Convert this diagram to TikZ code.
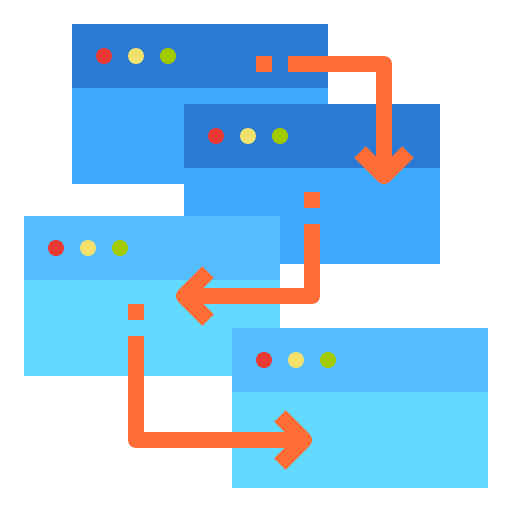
\documentclass[tikz,border=0pt]{standalone}
\usetikzlibrary{calc}

\definecolor{barDark}{HTML}{2A7BD4}
\definecolor{bodyDark}{HTML}{3FA9FF}
\definecolor{barLight}{HTML}{55BDFF}
\definecolor{bodyLight}{HTML}{64D9FF}
\definecolor{dotRed}{HTML}{EC3833}
\definecolor{dotYellow}{HTML}{F2E16A}
\definecolor{dotGreen}{HTML}{A3CC00}
\definecolor{flow}{HTML}{FF6D36}

% one browser window: top-left x, top-left y, bar colour, body colour
\newcommand{\browserwin}[4]{%
  \fill[#4] (#1,#2) rectangle ++(256,160);
  \fill[#3] (#1,#2) rectangle ++(256,64);
  \fill[dotRed]    (#1+32,#2+32) circle (8);
  \fill[dotYellow] (#1+64,#2+32) circle (8);
  \fill[dotGreen]  (#1+96,#2+32) circle (8);
}

\begin{document}
\begin{tikzpicture}[
    x=0.02cm, y=-0.02cm,
    flowline/.style={draw=flow, line width=0.32cm, line join=round},
    flowdot/.style={fill=flow},
  ]
  \useasboundingbox (0,0) rectangle (512,512);

  % ------------------------------------------------------------------
  % the four windows, back to front
  % ------------------------------------------------------------------
  \browserwin{72}{24}{barDark}{bodyDark}
  \browserwin{184}{104}{barDark}{bodyDark}
  \browserwin{24}{216}{barLight}{bodyLight}
  \browserwin{232}{328}{barLight}{bodyLight}

  % ------------------------------------------------------------------
  % flow arrows: a small square, then an elbow line ending in a chevron
  % ------------------------------------------------------------------
  % first -> second
  \fill[flowdot] (256,56) rectangle (272,72);
  \coordinate (a1s) at (288,64);
  \coordinate (a1k) at (384,64);
  \coordinate (a1t) at (384,176);
  \draw[flowline] (a1s) -- (a1k) -- (a1t);
  \draw[flowline] ($(a1t)+(-24,-24)$) -- (a1t) -- ($(a1t)+(24,-24)$);

  % second -> third
  \fill[flowdot] (304,192) rectangle (320,208);
  \coordinate (a2s) at (312,224);
  \coordinate (a2k) at (312,296);
  \coordinate (a2t) at (184,296);
  \draw[flowline] (a2s) -- (a2k) -- (a2t);
  \draw[flowline] ($(a2t)+(24,-24)$) -- (a2t) -- ($(a2t)+(24,24)$);

  % third -> fourth
  \fill[flowdot] (128,304) rectangle (144,320);
  \coordinate (a3s) at (136,336);
  \coordinate (a3k) at (136,440);
  \coordinate (a3t) at (304,440);
  \draw[flowline] (a3s) -- (a3k) -- (a3t);
  \draw[flowline] ($(a3t)+(-24,-24)$) -- (a3t) -- ($(a3t)+(-24,24)$);

\end{tikzpicture}
\end{document}
